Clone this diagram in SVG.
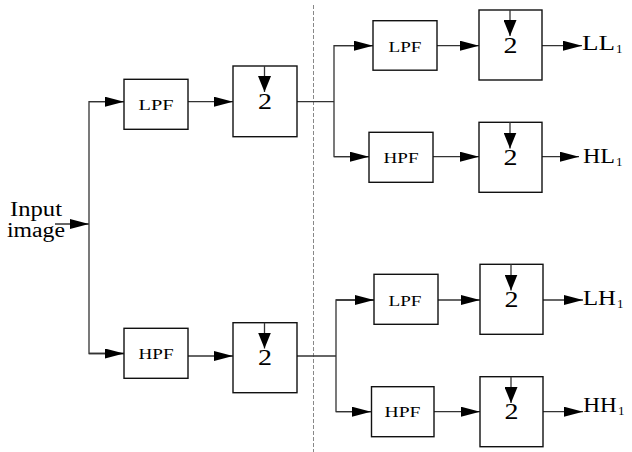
<svg xmlns="http://www.w3.org/2000/svg" width="632" height="452" viewBox="0 0 632 452">
<style>
.box{fill:#fff;stroke:#111;stroke-width:1.4}
.ln{fill:none;stroke:#333;stroke-width:1.3}
.t{font-family:"Liberation Serif","Times New Roman",serif;fill:#000}
.f{font-size:15px;text-anchor:middle}
.d{font-size:23px;text-anchor:middle}
.lab{font-size:20px}
.sub{font-size:13px}
</style>
<defs>
<marker id="ah" markerUnits="userSpaceOnUse" markerWidth="19" markerHeight="10" refX="19" refY="5" orient="auto">
<path d="M0,0 L19,5 L0,10 Z" fill="#000"/>
</marker>
<marker id="dn" markerUnits="userSpaceOnUse" markerWidth="16" markerHeight="13" refX="16" refY="6.5" orient="auto">
<path d="M0,0 L16,6.5 L0,13 Z" fill="#000"/>
</marker>
</defs>
<line x1="313.5" y1="5" x2="313.5" y2="452" stroke="#888" stroke-width="1" stroke-dasharray="4 2"/>
<g id="connectors">
<line class="ln" x1="55" y1="224" x2="89" y2="224" marker-end="url(#ah)"/>
<polyline class="ln" points="124,101.7 89,101.7 89,353.5 124,353.5"/>
<line class="ln" x1="89" y1="101.7" x2="124" y2="101.7" marker-end="url(#ah)"/>
<line class="ln" x1="89" y1="353.5" x2="124" y2="353.5" marker-end="url(#ah)"/>
<line class="ln" x1="188" y1="101.7" x2="233" y2="101.7" marker-end="url(#ah)"/>
<line class="ln" x1="188" y1="356" x2="233" y2="356" marker-end="url(#ah)"/>
<polyline class="ln" points="297,101.7 334,101.7"/>
<polyline class="ln" points="373,45.7 334,45.7 334,156.7 369,156.7"/>
<line class="ln" x1="334" y1="45.7" x2="373" y2="45.7" marker-end="url(#ah)"/>
<line class="ln" x1="334" y1="156.7" x2="369" y2="156.7" marker-end="url(#ah)"/>
<polyline class="ln" points="297,356 336,356"/>
<polyline class="ln" points="374,300 336,300 336,411.7 371,411.7"/>
<line class="ln" x1="336" y1="300" x2="374" y2="300" marker-end="url(#ah)"/>
<line class="ln" x1="336" y1="411.7" x2="371" y2="411.7" marker-end="url(#ah)"/>
<line class="ln" x1="437" y1="45.7" x2="479" y2="45.7" marker-end="url(#ah)"/>
<line class="ln" x1="433" y1="156.7" x2="479" y2="156.7" marker-end="url(#ah)"/>
<line class="ln" x1="438" y1="300" x2="480" y2="300" marker-end="url(#ah)"/>
<line class="ln" x1="434" y1="411.7" x2="480" y2="411.7" marker-end="url(#ah)"/>
<line class="ln" x1="542" y1="45.7" x2="582" y2="45.7" marker-end="url(#ah)"/>
<line class="ln" x1="542" y1="156.7" x2="579" y2="156.7" marker-end="url(#ah)"/>
<line class="ln" x1="543" y1="300" x2="583" y2="300" marker-end="url(#ah)"/>
<line class="ln" x1="543" y1="411.7" x2="583" y2="411.7" marker-end="url(#ah)"/>
</g>
<g id="input"><text class="t lab" x="10" y="215.5" textLength="52" lengthAdjust="spacingAndGlyphs">Input</text><text class="t lab" x="7" y="237" textLength="58" lengthAdjust="spacingAndGlyphs">image</text></g>
<g id="lpf1"><rect class="box" x="124" y="79.3" width="64" height="50"/><text class="t f" x="156" y="110" textLength="35" lengthAdjust="spacingAndGlyphs">LPF</text></g>
<g id="hpf1"><rect class="box" x="124" y="328.3" width="64" height="50"/><text class="t f" x="156" y="359" textLength="35" lengthAdjust="spacingAndGlyphs">HPF</text></g>
<g id="ds1"><rect class="box" x="233" y="66" width="64" height="70.7"/><line class="ln" x1="264.5" y1="66" x2="264.5" y2="92" marker-end="url(#dn)"/><text class="t d" x="265" y="108.5" textLength="14" lengthAdjust="spacingAndGlyphs">2</text></g>
<g id="ds2"><rect class="box" x="233" y="322.7" width="64" height="70"/><line class="ln" x1="264.5" y1="322.7" x2="264.5" y2="348.5" marker-end="url(#dn)"/><text class="t d" x="265" y="364.5" textLength="14" lengthAdjust="spacingAndGlyphs">2</text></g>
<g id="lpf2"><rect class="box" x="373" y="20.7" width="64" height="49.5"/><text class="t f" x="405" y="51.5" textLength="33" lengthAdjust="spacingAndGlyphs">LPF</text></g>
<g id="hpf2"><rect class="box" x="369" y="132.3" width="64" height="50"/><text class="t f" x="401" y="162.5" textLength="35" lengthAdjust="spacingAndGlyphs">HPF</text></g>
<g id="lpf3"><rect class="box" x="374" y="274.3" width="64" height="50"/><text class="t f" x="405" y="306" textLength="33" lengthAdjust="spacingAndGlyphs">LPF</text></g>
<g id="hpf3"><rect class="box" x="371.5" y="386.7" width="62.5" height="50"/><text class="t f" x="402.5" y="417.3" textLength="36" lengthAdjust="spacingAndGlyphs">HPF</text></g>
<g id="ds3"><rect class="box" x="479" y="10" width="63" height="70"/><line class="ln" x1="510" y1="10" x2="510" y2="36" marker-end="url(#dn)"/><text class="t d" x="510.5" y="52.5" textLength="14" lengthAdjust="spacingAndGlyphs">2</text></g>
<g id="ds4"><rect class="box" x="479" y="122.3" width="63" height="70"/><line class="ln" x1="510" y1="122.3" x2="510" y2="148.5" marker-end="url(#dn)"/><text class="t d" x="510.5" y="164.5" textLength="14" lengthAdjust="spacingAndGlyphs">2</text></g>
<g id="ds5"><rect class="box" x="480" y="264.3" width="63" height="70"/><line class="ln" x1="511" y1="264.3" x2="511" y2="290.5" marker-end="url(#dn)"/><text class="t d" x="511.5" y="306.5" textLength="14" lengthAdjust="spacingAndGlyphs">2</text></g>
<g id="ds6"><rect class="box" x="480" y="376.7" width="63" height="70"/><line class="ln" x1="511" y1="376.7" x2="511" y2="403" marker-end="url(#dn)"/><text class="t d" x="511.5" y="418.5" textLength="14" lengthAdjust="spacingAndGlyphs">2</text></g>
<g id="ll1"><text class="t lab" x="582" y="50" textLength="33" lengthAdjust="spacingAndGlyphs">LL</text><text class="t sub" x="616" y="52.5">1</text></g>
<g id="hl1"><text class="t lab" x="583" y="163" textLength="32" lengthAdjust="spacingAndGlyphs">HL</text><text class="t sub" x="616" y="165.5">1</text></g>
<g id="lh1"><text class="t lab" x="583" y="305" textLength="33" lengthAdjust="spacingAndGlyphs">LH</text><text class="t sub" x="617" y="307.5">1</text></g>
<g id="hh1"><text class="t lab" x="583.3" y="412" textLength="33.5" lengthAdjust="spacingAndGlyphs">HH</text><text class="t sub" x="618" y="414.5">1</text></g>
</svg>
